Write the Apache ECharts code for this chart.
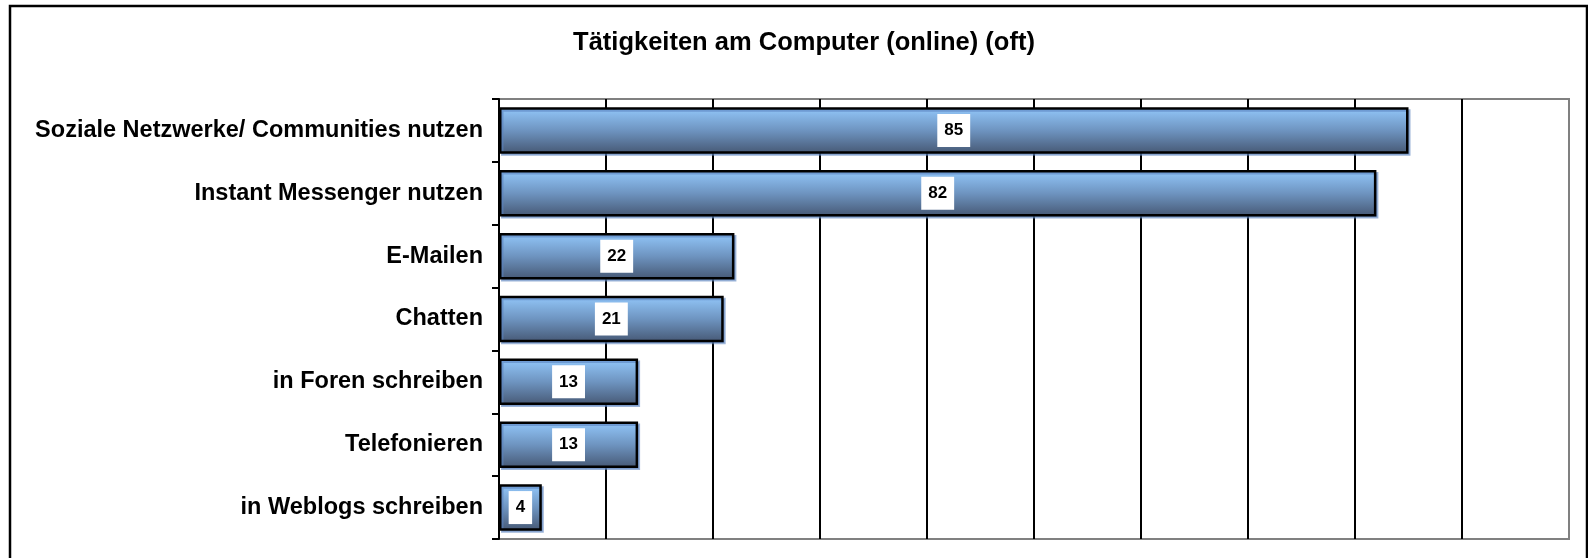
<!DOCTYPE html>
<html>
<head>
<meta charset="utf-8">
<script src="https://cdn.jsdelivr.net/npm/echarts@6/dist/echarts.min.js"></script>
<style>
  html, body { margin: 0; padding: 0; background: #fff; }
  #chart { width: 1588px; height: 558px; }
</style>
</head>
<body>
<div id="chart"></div>
<script>
const title = 'Tätigkeiten am Computer (online) (oft)'
const categories = [
  'Soziale Netzwerke/ Communities nutzen',
  'Instant Messenger nutzen',
  'E-Mailen',
  'Chatten',
  'in Foren schreiben',
  'Telefonieren',
  'in Weblogs schreiben'
]
const values = [85, 82, 22, 21, 13, 13, 4]
const axisMin = 0
const axisMax = 100
const axisStep = 10

const font = '"Liberation Sans", Arial, sans-serif'

function initChart() {
  const myChart = echarts.init(document.getElementById('chart'))
  const option = {
    animation: false,
    title: {
      text: title,
      left: 799,
      textAlign: 'center',
      top: 25,
      textStyle: {
        fontFamily: font,
        fontWeight: 'bold',
        fontSize: 25.5,
        color: '#000'
      }
    },
    graphic: [
      {
        type: 'rect',
        shape: { x: 10, y: 6, width: 1577, height: 560 },
        style: { fill: 'none', stroke: '#000', lineWidth: 2.5 },
        z: 100
      }
    ],
    grid: {
      left: 499,
      top: 99,
      right: 19,
      bottom: 19,
      show: true,
      borderColor: '#808080',
      borderWidth: 2
    },
    xAxis: {
      type: 'value',
      min: axisMin,
      max: axisMax,
      interval: axisStep,
      axisLabel: { show: false },
      axisLine: { show: false },
      axisTick: { show: false },
      splitLine: {
        show: true,
        showMinLine: false,
        showMaxLine: false,
        lineStyle: { color: '#000', width: 2 }
      }
    },
    yAxis: {
      type: 'category',
      inverse: true,
      data: categories,
      axisLine: { show: true, lineStyle: { color: '#000', width: 2 } },
      axisTick: { show: true, length: 7, lineStyle: { color: '#000', width: 2 } },
      axisLabel: {
        margin: 16,
        fontFamily: font,
        fontWeight: 'bold',
        fontSize: 23.5,
        color: '#000'
      }
    },
    series: [
      {
        type: 'bar',
        data: values,
        barCategoryGap: '26%',
        z: 3,
        itemStyle: {
          color: new echarts.graphic.LinearGradient(0, 0, 0, 1, [
            { offset: 0, color: '#93c8fb' },
            { offset: 0.5, color: '#6e94c0' },
            { offset: 1, color: '#465874' }
          ]),
          borderColor: '#000',
          borderWidth: 2.5,
          shadowColor: 'rgba(90, 130, 190, 0.6)',
          shadowOffsetX: 2,
          shadowOffsetY: 2,
          shadowBlur: 0
        },
        label: {
          show: true,
          position: 'inside',
          fontFamily: font,
          fontWeight: 'bold',
          fontSize: 17,
          color: '#000',
          backgroundColor: '#fff',
          padding: [8, 7]
        }
      }
    ]
  }
  myChart.setOption(option, true)
}

initChart()
</script>
</body>
</html>
